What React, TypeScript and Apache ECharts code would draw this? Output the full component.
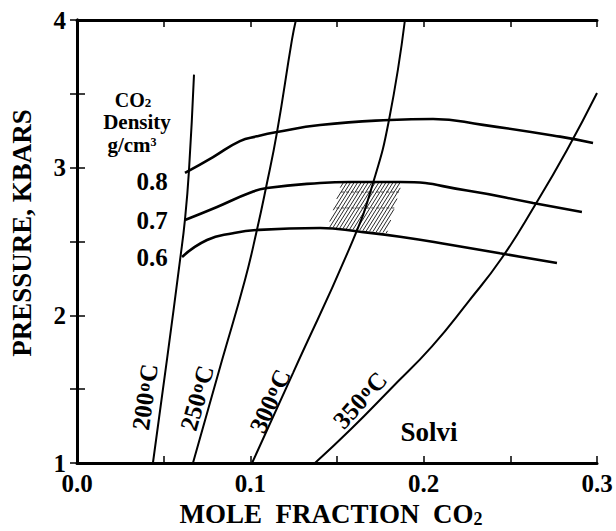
import React, { useEffect, useRef } from 'react';
import * as echarts from 'echarts';

const FONT = '"Liberation Serif", "Times New Roman", serif';

// Isotherms (x = mole fraction CO2, y = pressure kbar)
const iso200 = [[0.0438, 1.0], [0.0519, 1.7], [0.0594, 2.37], [0.0623, 2.65], [0.0646, 2.98], [0.0675, 3.63]];
const iso250 = [[0.0669, 1.0], [0.0837, 1.697], [0.0969, 2.239], [0.1038, 2.578], [0.109, 2.862], [0.1154, 3.241], [0.124, 3.865], [0.1263, 4.0]];
const iso300 = [[0.101, 1.0], [0.1246, 1.609], [0.1592, 2.51], [0.1708, 2.896], [0.18, 3.323], [0.1892, 4.0]];
const iso350 = [[0.1373, 1.0], [0.1581, 1.23], [0.1812, 1.505], [0.2048, 1.79], [0.2256, 2.09], [0.2452, 2.39], [0.2642, 2.745], [0.2827, 3.12], [0.3, 3.506]];

// CO2 density isochores
const dens08 = [[0.0623, 2.964], [0.0785, 3.072], [0.094, 3.18], [0.1038, 3.212], [0.1154, 3.241], [0.1402, 3.289], [0.1806, 3.323], [0.2054, 3.33], [0.2342, 3.29], [0.2787, 3.21], [0.2977, 3.167]];
const dens07 = [[0.0623, 2.646], [0.0808, 2.734], [0.0998, 2.83], [0.1096, 2.862], [0.1402, 2.896], [0.1575, 2.903], [0.1864, 2.903], [0.225, 2.845], [0.2631, 2.761], [0.2913, 2.7]];
const dens06 = [[0.0606, 2.395], [0.075, 2.51], [0.09, 2.556], [0.1038, 2.578], [0.1402, 2.591], [0.1633, 2.566], [0.1864, 2.532], [0.2152, 2.478], [0.244, 2.42], [0.2769, 2.354]];

// Hatched region corners
const hatchX = [0.1529, 0.1875, 0.1788, 0.1448];
const hatchY = [2.903, 2.903, 2.557, 2.598];
const hatchDashY = [2.835, 2.727];

const xTicks = [0, 0.1, 0.2, 0.3];
const yTicks = [1, 2, 3, 4];

function lineSeries(data: number[][], width: number) {
  return {
    type: 'line',
    data,
    smooth: 0.5,
    showSymbol: false,
    symbol: 'none',
    silent: true,
    lineStyle: { color: '#000', width },
    z: 3,
  };
}

export default function App() {
  const ref = useRef<HTMLDivElement>(null);
  useEffect(() => {
    if (!ref.current) return;
    const chart = echarts.init(ref.current, undefined, { renderer: 'svg' });
    const axisCommon = {
      type: 'value',
      axisLine: { show: true, lineStyle: { color: '#000', width: 3 } },
      splitLine: { show: false },
    };
    const xFmt = (v: number) => {
      const k = Math.round(v * 20);
      return k % 2 === 0 && xTicks.includes(k / 20) ? (k / 20).toFixed(1) : '';
    };
    const yFmt = (v: number) => (yTicks.includes(v) ? String(v) : '');
    const txt = (text: string, x: number, y: number, size: number, rot = 0) => ({
      type: 'text',
      x,
      y,
      rotation: (rot * Math.PI) / 180,
      style: {
        text,
        x: 0,
        y: 0,
        align: 'center',
        verticalAlign: 'middle',
        fontFamily: FONT,
        fontWeight: 'bold',
        fontSize: size,
        lineHeight: Math.round(size * 0.9),
        fill: '#000',
      },
      silent: true,
    });
    const degTxt = (num: string, x: number, y: number, rot: number) => ({
      type: 'text',
      x,
      y,
      rotation: (rot * Math.PI) / 180,
      silent: true,
      style: {
        text: `{a|${num}}{o|o}{a|C}`,
        x: 0,
        y: 0,
        align: 'center',
        verticalAlign: 'middle',
        rich: {
          a: { fontFamily: FONT, fontWeight: 'bold', fontSize: 25, lineHeight: 24, fill: '#000' },
          o: { fontFamily: FONT, fontWeight: 'bold', fontSize: 18, lineHeight: 18, verticalAlign: 'top', fill: '#000', padding: [0, 1, 0, 1] },
        },
      },
    });
    const option: any = {
      animation: false,
      backgroundColor: '#fff',
      grid: { left: 77, right: 19, top: 20, bottom: 68 },
      xAxis: [
        {
          ...axisCommon,
          position: 'bottom',
          min: 0,
          max: 0.3,
          interval: 0.05,
          axisTick: { show: true, inside: true, length: 7, lineStyle: { color: '#000', width: 1.5 } },
          axisLabel: { formatter: xFmt, margin: 8, fontFamily: FONT, fontWeight: 'bold', fontSize: 25, color: '#000' },
        },
        {
          ...axisCommon,
          position: 'top',
          min: 0,
          max: 0.3,
          interval: 0.05,
          axisTick: { show: true, inside: true, length: 7, lineStyle: { color: '#000', width: 1.5 } },
          axisLabel: { show: false },
        },
      ],
      yAxis: [
        {
          ...axisCommon,
          position: 'left',
          min: 1,
          max: 4,
          interval: 0.5,
          axisTick: { show: true, inside: true, length: 8, lineStyle: { color: '#000', width: 1.5 } },
          axisLabel: { formatter: yFmt, margin: 11, fontFamily: FONT, fontWeight: 'bold', fontSize: 25, color: '#000' },
        },
        {
          ...axisCommon,
          position: 'right',
          min: 1,
          max: 4,
          interval: 0.5,
          axisTick: { show: true, inside: true, length: 7, lineStyle: { color: '#000', width: 1.5 } },
          axisLabel: { show: false },
        },
      ],
      series: [
        {
          type: 'custom',
          coordinateSystem: 'cartesian2d',
          silent: true,
          z: 2,
          data: [[hatchX[0], hatchY[0]]],
          renderItem: (_params: any, api: any) => {
            const pts = hatchX.map((x, i) => api.coord([x, hatchY[i]]));
            const clip = (nx: number, ny: number, c: number) => {
              const hits: number[][] = [];
              for (let i = 0; i < pts.length; i++) {
                const a = pts[i];
                const b = pts[(i + 1) % pts.length];
                const fa = nx * a[0] + ny * a[1] - c;
                const fb = nx * b[0] + ny * b[1] - c;
                if ((fa <= 0 && fb > 0) || (fa > 0 && fb <= 0)) {
                  const t = fa / (fa - fb);
                  hits.push([a[0] + t * (b[0] - a[0]), a[1] + t * (b[1] - a[1])]);
                }
              }
              return hits.length >= 2 ? hits : null;
            };
            const children: any[] = [];
            const ang = (58 * Math.PI) / 180;
            const nx = Math.sin(ang);
            const ny = Math.cos(ang);
            const cs = pts.map((p: number[]) => nx * p[0] + ny * p[1]);
            const cmin = Math.min(...cs);
            const cmax = Math.max(...cs);
            for (let c = cmin + 1.5; c < cmax; c += 3.0) {
              const h = clip(nx, ny, c);
              if (h) {
                children.push({
                  type: 'line',
                  shape: { x1: h[0][0], y1: h[0][1], x2: h[1][0], y2: h[1][1] },
                  style: { stroke: '#111', lineWidth: 0.9 },
                });
              }
            }
            hatchDashY.forEach((yv) => {
              const py = api.coord([0.16, yv])[1];
              const h = clip(0, 1, py);
              if (h) {
                children.push({
                  type: 'line',
                  shape: { x1: h[0][0], y1: h[0][1], x2: h[1][0], y2: h[1][1] },
                  style: { stroke: '#333', lineWidth: 0.9, lineDash: [3, 2] },
                });
              }
            });
            return { type: 'group', children };
          },
        },
        lineSeries(iso200, 2),
        lineSeries(iso250, 2),
        lineSeries(iso300, 2),
        lineSeries(iso350, 2),
        lineSeries(dens08, 2.6),
        lineSeries(dens07, 2.6),
        lineSeries(dens06, 2.6),
      ],
      graphic: [
        txt('PRESSURE, KBARS', 22, 233, 27, 90),
        {
          type: 'text',
          x: 331,
          y: 514,
          silent: true,
          style: {
            text: '{a|MOLE  FRACTION  CO}{b|2}',
            x: 0,
            y: 0,
            align: 'center',
            verticalAlign: 'middle',
            rich: {
              a: { fontFamily: FONT, fontWeight: 'bold', fontSize: 27, lineHeight: 28, fill: '#000' },
              b: { fontFamily: FONT, fontWeight: 'bold', fontSize: 18, lineHeight: 20, verticalAlign: 'bottom', fill: '#000' },
            },
          },
        },
        {
          type: 'text',
          x: 133,
          y: 100,
          silent: true,
          style: {
            text: '{a|CO}{b|2}',
            x: 0,
            y: 0,
            align: 'center',
            verticalAlign: 'middle',
            rich: {
              a: { fontFamily: FONT, fontWeight: 'bold', fontSize: 20, lineHeight: 18, fill: '#000' },
              b: { fontFamily: FONT, fontWeight: 'bold', fontSize: 13, lineHeight: 12, verticalAlign: 'bottom', fill: '#000' },
            },
          },
        },
        txt('Density', 137, 122, 21),
        {
          type: 'text',
          x: 132,
          y: 145,
          silent: true,
          style: {
            text: '{a|g/cm}{b|3}',
            x: 0,
            y: 0,
            align: 'center',
            verticalAlign: 'middle',
            rich: {
              a: { fontFamily: FONT, fontWeight: 'bold', fontSize: 21, lineHeight: 18, fill: '#000' },
              b: { fontFamily: FONT, fontWeight: 'bold', fontSize: 12, lineHeight: 10, verticalAlign: 'top', fill: '#000' },
            },
          },
        },
        txt('0.8', 152, 181, 25),
        txt('0.7', 152, 220, 25),
        txt('0.6', 152, 257, 25),
        degTxt('200', 145, 397, 82),
        degTxt('250', 197, 398, 74),
        degTxt('300', 270, 401, 66),
        degTxt('350', 360, 400, 48),
        txt('Solvi', 429, 432, 27),
      ],
    };
    chart.setOption(option);
    return () => chart.dispose();
  }, []);
  return <div ref={ref} style={{ position: 'fixed', left: 0, top: 0, width: 616, height: 531 }} />;
}
